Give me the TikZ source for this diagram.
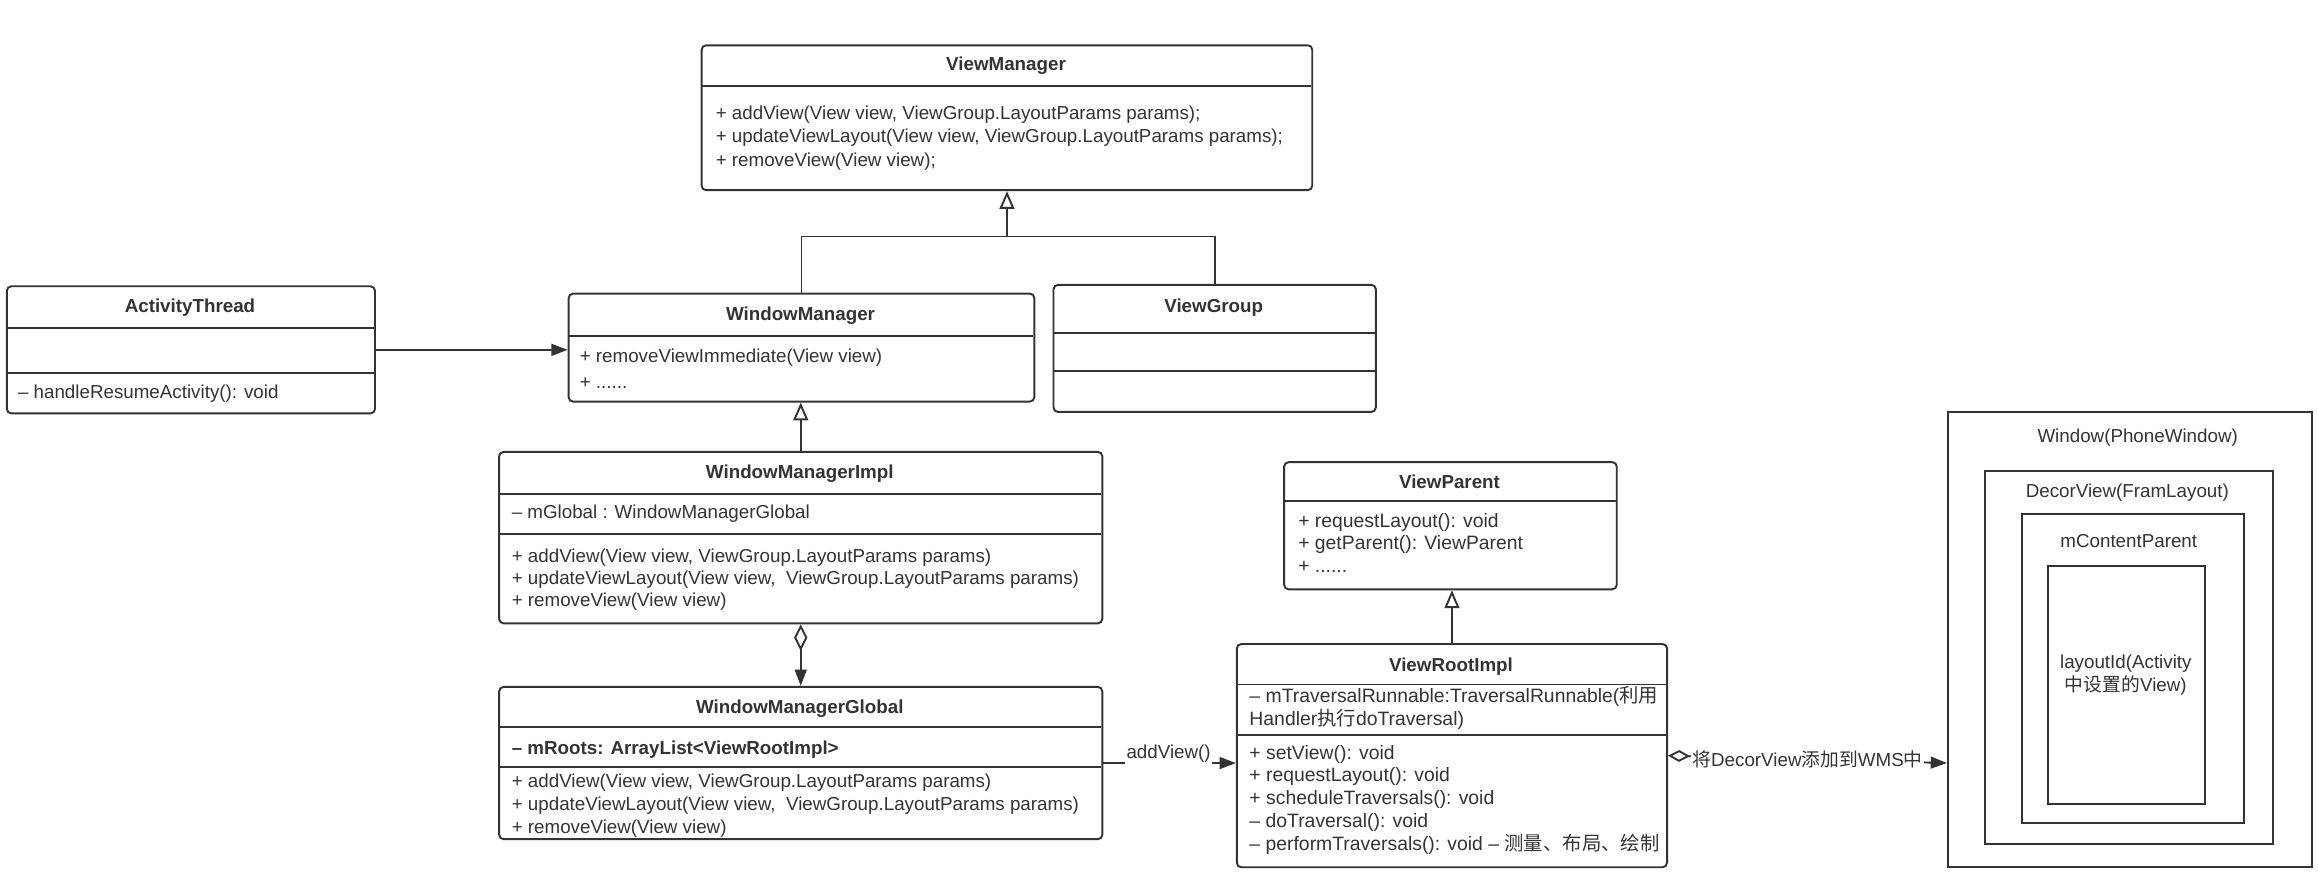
\documentclass[tikz,border=0pt]{standalone}
\usepackage{fontspec}
\setmainfont{Liberation Sans}
\newfontfamily\cjk{Noto Sans CJK SC}
\usetikzlibrary{arrows.meta,calc}
\definecolor{ink}{HTML}{333333}
\begin{document}
\begin{tikzpicture}[x=1pt,y=-1pt,
  box/.style={draw=ink, line width=1.3pt, rounded corners=3pt, anchor=north west, inner sep=0pt},
  sqbox/.style={draw=ink, line width=1.3pt, anchor=north west, inner sep=0pt},
  sepline/.style={draw=ink, line width=1.3pt},
  txt/.style={anchor=west, inner sep=0pt, text=ink, text height=9.5pt, text depth=2.5pt, font=\fontsize{12.7}{15.5}\selectfont},
  rtxt/.style={txt, font=\fontsize{13.1}{15.5}\selectfont},
  ctxt/.style={anchor=center, inner sep=0pt, text=ink, text height=9.5pt, text depth=2.5pt, font=\fontsize{12.7}{15.5}\selectfont},
  ttl/.style={ctxt, font=\fontsize{12.7}{15.5}\selectfont\bfseries},
  conn/.style={draw=ink, line width=1.3pt},
  inh/.style={conn, -{Triangle[open, length=12pt, width=10pt, fill=white]}},
  assoc/.style={conn, -{Triangle[length=11pt, width=8pt]}},
  aggr/.style={conn, {Diamond[open, length=18pt, width=9pt, fill=white]}-{Triangle[length=11pt, width=8pt]}},
  lab/.style={fill=white, inner sep=1pt, text=ink, font=\fontsize{12.7}{15.5}\selectfont}
]
\useasboundingbox (0,0) rectangle (1568,604.8);

% ViewManager
\node[box, minimum width=413pt, minimum height=98pt] (vm) at (474,30) {};
\draw[sepline] (474,58) -- (887,58);
\node[ttl] (vmT) at (680.5,44) {ViewManager};
\node[txt] (vm1) at (484,77) {+ addView(View view, ViewGroup.LayoutParams params);};
\node[txt] (vm2) at (484,93) {+ updateViewLayout(View view, ViewGroup.LayoutParams params);};
\node[txt] (vm3) at (484,109) {+ removeView(View view);};

% ActivityThread
\node[box, minimum width=249pt, minimum height=86pt] (at) at (4,193) {};
\draw[sepline] (4,222) -- (253,222);
\draw[sepline] (4,252) -- (253,252);
\node[ttl] (atT) at (128.5,208) {ActivityThread};
\node[txt] (at1) at (12,266) {– handleResumeActivity(): void};

% WindowManager
\node[box, minimum width=315pt, minimum height=73pt] (wm) at (384,198) {};
\draw[sepline] (384,227) -- (699,227);
\node[ttl] (wmT) at (541.5,213) {WindowManager};
\node[txt] (wm1) at (392,242) {+ removeViewImmediate(View view)};
\node[txt] (wm2) at (392,259) {+ ......};

% ViewGroup
\node[box, minimum width=218pt, minimum height=86pt] (vg) at (712,192) {};
\draw[sepline] (712,225) -- (930,225);
\draw[sepline] (712,251) -- (930,251);
\node[ttl] (vgT) at (821,208) {ViewGroup};

% WindowManagerImpl
\node[box, minimum width=408pt, minimum height=116pt] (wmi) at (337,305) {};
\draw[sepline] (337,334) -- (745,334);
\draw[sepline] (337,361) -- (745,361);
\node[ttl] (wmiT) at (541,320) {WindowManagerImpl};
\node[txt] (wmia) at (346,347) {– mGlobal : WindowManagerGlobal};
\node[txt] (wmi1) at (346,377) {+ addView(View view, ViewGroup.LayoutParams params)};
\node[txt] (wmi2) at (346,392) {+ updateViewLayout(View view,\ \ ViewGroup.LayoutParams params)};
\node[txt] (wmi3) at (346,407) {+ removeView(View view)};

% WindowManagerGlobal
\node[box, minimum width=408pt, minimum height=103pt] (wmg) at (337,464) {};
\draw[sepline] (337,492) -- (745,492);
\draw[sepline] (337,519) -- (745,519);
\node[ttl] (wmgT) at (541,479) {WindowManagerGlobal};
\node[txt, font=\fontsize{12.7}{15.5}\selectfont\bfseries] (wmga) at (346,507) {– mRoots: ArrayList<ViewRootImpl>};
\node[txt] (wmg1) at (346,529) {+ addView(View view, ViewGroup.LayoutParams params)};
\node[txt] (wmg2) at (346,545) {+ updateViewLayout(View view,\ \ ViewGroup.LayoutParams params)};
\node[txt] (wmg3) at (346,560) {+ removeView(View view)};

% ViewParent
\node[box, minimum width=225pt, minimum height=86pt] (vp) at (868,312) {};
\draw[sepline] (868,339) -- (1093,339);
\node[ttl] (vpT) at (980.5,327) {ViewParent};
\node[rtxt] (vp1) at (878,353) {+ requestLayout(): void};
\node[rtxt] (vp2) at (878,368) {+ getParent(): ViewParent};
\node[rtxt] (vp3) at (878,384) {+ ......};

% ViewRootImpl
\node[box, minimum width=291pt, minimum height=151pt] (vri) at (836,435) {};
\draw[sepline] (836,463) -- (1127,463);
\draw[sepline] (836,497) -- (1127,497);
\node[ttl] (vriT) at (981.5,451) {ViewRootImpl};
\node[rtxt] (vria) at (845,472) {– mTraversalRunnable:TraversalRunnable({\cjk 利用}};
\node[rtxt] (vrib) at (845,487) {Handler{\cjk 执行}doTraversal)};
\node[rtxt] (vri1) at (845,510) {+ setView(): void};
\node[rtxt] (vri2) at (845,525) {+ requestLayout(): void};
\node[rtxt] (vri3) at (845,541) {+ scheduleTraversals(): void};
\node[rtxt] (vri4) at (845,556) {– doTraversal(): void};
\node[rtxt] (vri5) at (845,572) {– performTraversals(): void – {\cjk 测量、布局、绘制}};

% Window nesting
\node[sqbox, minimum width=246pt, minimum height=308pt] (win) at (1317,278) {};
\node[ctxt] (winT) at (1446,296) {Window(PhoneWindow)};
\node[sqbox, minimum width=195pt, minimum height=252pt] (dv) at (1342,318) {};
\node[ctxt] (dvT) at (1439,333) {DecorView(FramLayout)};
\node[sqbox, minimum width=150pt, minimum height=209pt] (mcp) at (1367,347) {};
\node[ctxt] (mcpT) at (1440,367) {mContentParent};
\node[sqbox, minimum width=106pt, minimum height=161pt] (lid) at (1385,382) {};
\node[ctxt] (lid1) at (1438,449) {layoutId(Activity};
\node[ctxt] (lid2) at (1438,464) {{\cjk 中设置的}View)};

% connectors
\coordinate (j1) at (vm.south |- 0,160);
\draw[conn] (wm.north) |- (j1);
\draw[conn] (vg.north) |- (j1);
\draw[inh] (j1) -- (vm.south);
\draw[assoc] (at.east) -- (at.east -| wm.west);
\draw[inh] (wmi.north) -- (wmi.north |- wm.south);
\draw[aggr] (wmi.south) -- (wmi.south |- wmg.north);
\draw[inh] (vri.north) -- (vri.north |- vp.south);
\draw[assoc] (wmg.east) -- (wmg.east -| vri.west);
\node[lab] (addl) at (790.5,510) {addView()};
\draw[conn, {Diamond[open, length=15pt, width=8pt, fill=white]}-{Triangle[length=11pt, width=8pt]}]
  (vri.east) -- node[lab] (wmsl) {{\cjk 将}DecorView{\cjk 添加到}WMS{\cjk 中}} ($(win.west |- vri.east)+(0,5)$);
\end{tikzpicture}
\end{document}
